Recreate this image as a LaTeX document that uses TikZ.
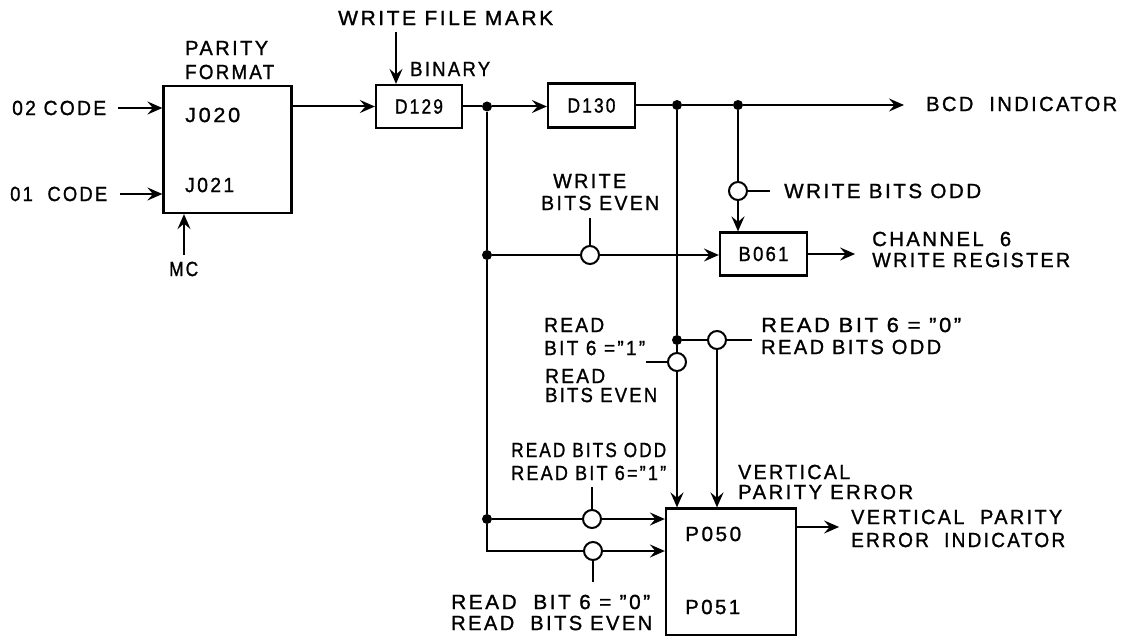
\documentclass[tikz,border=0pt]{standalone}
\usepackage{fontspec}
\usepackage{graphicx}
\usetikzlibrary{arrows.meta}
\setmainfont[LetterSpace=12,FakeBold=1.2]{Liberation Sans}
\tikzset{
  x=1pt,y=-1pt,
  wire/.style={line width=2pt},
  arr/.style={wire,-{Stealth[length=15pt,width=13pt,inset=5.5pt]}},
  lbl/.style={anchor=west,inner sep=0pt},
  blockbox/.style={draw,line width=2.2pt,inner sep=0pt,font=\fontsize{20.5}{20.5}\selectfont},
  gate/.style={draw,line width=2pt,circle,fill=white,minimum size=18pt,inner sep=0pt},
  dotj/.style={fill,circle,minimum size=10pt,inner sep=0pt},
}
\newcommand{\lab}[5]{\node[lbl,font=\fontsize{20.5}{20.5}\selectfont] (#1) at (#2,#3) {\resizebox{#4pt}{\height}{#5}};}
\begin{document}
\begin{tikzpicture}
\useasboundingbox (0,0) rectangle (1125,636);
% blocks
\node[blockbox,minimum width=128pt,minimum height=127pt] (parity) at (227.5,149.5) {};
\node[blockbox,minimum width=86pt,minimum height=43pt] (d129) at (419,106.5) {\resizebox{48pt}{\height}{D129}};
\node[blockbox,minimum width=87pt,minimum height=44pt] (d130) at (591.5,105.5) {\resizebox{48pt}{\height}{D130}};
\node[blockbox,minimum width=87pt,minimum height=43pt] (b061) at (763.5,254) {\resizebox{50pt}{\height}{B061}};
\node[blockbox,minimum width=130pt,minimum height=127pt] (p050) at (731,572) {};
% junctions and gates
\node[dotj] (j1) at (487,106.5) {};
\node[dotj] (j2) at (487,255) {};
\node[dotj] (j3) at (487,519) {};
\node[dotj] (j4) at (677,105) {};
\node[dotj] (j5) at (738,105) {};
\node[dotj] (j6) at (677,340) {};
\node[gate] (gwbo) at (738,191) {};
\node[gate] (gwbe) at (590,255) {};
\node[gate] (grbo) at (717,340) {};
\node[gate] (grbe) at (677,362) {};
\node[gate] (gro) at (592,519) {};
\node[gate] (gre) at (593,551) {};
\coordinate (corner) at (487,551);
\coordinate (swbo) at (770,191);
\coordinate (swbe) at (590,218);
\coordinate (srbo) at (752,340);
\coordinate (srbe) at (646,362);
\coordinate (sro) at (592,487);
\coordinate (sre) at (593,582);
\coordinate (swfm) at (396,32);
\coordinate (smc) at (184,255);
\coordinate (bcdend) at (904,105);
% labels
\lab{o2}{12}{108}{94}{02 CODE}
\lab{o1}{10}{194}{97}{01~~CODE}
\lab{parity1}{185}{48}{83}{PARITY}
\lab{format}{185}{72}{89}{FORMAT}
\lab{j020}{185}{115}{55}{J020}
\lab{j021}{185}{185}{49}{J021}
\lab{mc}{169}{269}{29}{MC}
\lab{wfm}{338}{18}{215}{WRITE FILE MARK}
\lab{binary}{410}{69}{80}{BINARY}
\lab{bind}{926}{104}{191}{BCD~~INDICATOR}
\lab{write1}{553}{181}{73}{WRITE}
\lab{bitse}{541}{203}{118}{BITS EVEN}
\lab{wbo}{784}{191}{197}{WRITE BITS ODD}
\lab{ch6}{872}{239}{139}{CHANNEL~~6}
\lab{wreg}{872}{260}{198}{WRITE REGISTER}
\lab{read1}{544}{325}{60}{READ}
\lab{bit61}{544}{348}{101}{BIT 6 ="1"}
\lab{read2}{545}{376}{60}{READ}
\lab{bitse2}{545}{395}{112}{BITS EVEN}
\lab{rb60}{761}{325}{200}{READ BIT 6 = "0"}
\lab{rbo}{761}{347}{180}{READ BITS ODD}
\lab{rbo2}{511}{450}{155}{READ BITS ODD}
\lab{rb61}{511}{473}{155}{READ BIT 6="1"}
\lab{vert}{738}{472}{112}{VERTICAL}
\lab{pe}{738}{492}{175}{PARITY ERROR}
\lab{vp}{851}{517}{211}{VERTICAL~~PARITY}
\lab{ei}{851}{540}{214}{ERROR~~INDICATOR}
\lab{p050t}{685}{534}{56}{P050}
\lab{p051t}{685}{607}{55}{P051}
\lab{rb60b}{451}{602}{199}{READ~~BIT 6 = "0"}
\lab{rbeb}{451}{623}{201}{READ~~BITS EVEN}
% connectors
\draw[arr,shorten <=12pt] (o2.east) -- (o2.east -| parity.west);
\draw[arr,shorten <=13pt] (o1.east) -- (o1.east -| parity.west);
\draw[arr] (smc) -- (smc |- parity.south);
\draw[arr] (parity.east |- d129.west) -- (d129.west);
\draw[arr] (swfm) -- (swfm |- d129.north);
\draw[wire] (d129.east) -- (j1);
\draw[arr] (j1) -- (d130.west |- j1);
\draw[wire] (d130.east |- j4) -- (j4);
\draw[wire] (j4) -- (j5);
\draw[arr] (j5) -- (bcdend);
\draw[wire] (j5) -- (gwbo);
\draw[arr] (gwbo) -- (gwbo |- b061.north);
\draw[wire] (gwbo) -- (swbo);
\draw[wire] (j1) -- (j2);
\draw[wire] (j2) -- (j3);
\draw[wire] (j3) -- (corner) -- (gre);
\draw[wire] (j2) -- (gwbe);
\draw[arr] (gwbe) -- (b061.west |- gwbe);
\draw[wire] (gwbe) -- (swbe);
\draw[arr] (b061.east) -- ++(47,0);
\draw[wire] (j4) -- (j6);
\draw[wire] (j6) -- (grbe);
\draw[wire] (j6) -- (grbo);
\draw[wire] (grbo) -- (srbo);
\draw[wire] (grbe) -- (srbe);
\draw[arr] (grbe) -- (grbe |- p050.north);
\draw[arr] (grbo) -- (grbo |- p050.north);
\draw[wire] (j3) -- (gro);
\draw[arr] (gro) -- (p050.west |- gro);
\draw[wire] (gro) -- (sro);
\draw[arr] (gre) -- (p050.west |- gre);
\draw[wire] (gre) -- (sre);
\draw[arr] (p050.east |- vp.west) ++(0,10) -- ++(42,0);
\end{tikzpicture}
\end{document}
